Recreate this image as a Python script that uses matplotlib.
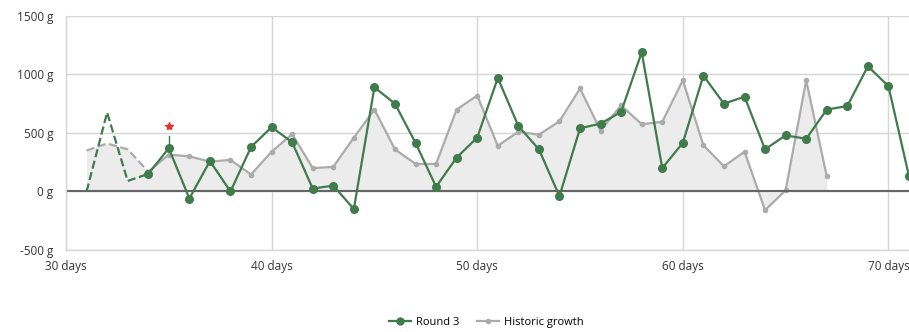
import numpy as np
import matplotlib.pyplot as plt
from matplotlib.lines import Line2D

plt.rcParams['font.family'] = ['Open Sans', 'DejaVu Sans']

# Round 3 (g per day)
round3_dias = np.arange(31, 72)
round3_g = [0, 675, 90, 150, 370, -60, 260, 0, 380, 550,
            420, 25, 50, -150, 890, 750, 415, 40, 290, 460,
            970, 560, 360, -40, 540, 580, 680, 1190, 200, 415,
            990, 750, 810, 360, 480, 450, 700, 730, 1070, 900,
            130]

# Historic growth
hist_dias = np.arange(31, 68)
hist_g = [350, 410, 360, 170, 315, 300, 255, 270, 145, 340,
          490, 200, 210, 460, 700, 360, 235, 235, 700, 820,
          390, 510, 485, 600, 880, 520, 735, 575, 595, 950,
          395, 215, 340, -160, 10, 950, 130]

corte = 34  # hasta aqui la linea es discontinua
dia_estrella = 35

verde = '#3f7b4b'
gris = '#ababab'

fig = plt.figure(figsize=(9.09, 3.32), dpi=100)
ax = fig.add_axes([0.0726, 0.247, 0.9274, 0.705])

rd = np.array(round3_dias)
rg = np.array(round3_g)
hd = np.array(hist_dias)
hg = np.array(hist_g)

ax.fill_between(hd, hg, 0, color='#ececec', zorder=1, linewidth=0)

# historico
m = hd <= corte
ax.plot(hd[m], hg[m], '--', color=gris, lw=1.6, zorder=2)
ax.plot(hd[hd >= corte], hg[hd >= corte], '-', color=gris, lw=1.6, zorder=2)
ax.plot(hd[hd > corte], hg[hd > corte], 'o', color=gris, ms=3, zorder=2)

# round 3
m = rd <= corte
ax.plot(rd[m], rg[m], '--', color=verde, lw=1.6, zorder=3)
ax.plot(rd[rd >= corte], rg[rd >= corte], '-', color=verde, lw=1.6, zorder=3)
ax.plot(rd[rd >= corte], rg[rd >= corte], 'o', color=verde, ms=5.5, zorder=4,
        clip_on=False)

# estrella
ve = rg[rd == dia_estrella][0]
ax.plot([dia_estrella, dia_estrella], [ve, ve + 100], color=verde, lw=1, zorder=3)
ax.plot(dia_estrella, ve + 190, marker='*', color='#e8332a', ms=6, zorder=5)

ax.axhline(0, color='#666666', lw=1.5, zorder=2)

ax.set_xlim(30, 71)
ax.set_ylim(-500, 1500)
ax.set_xticks([30, 40, 50, 60, 70])
ax.set_xticklabels([f'{d} days' for d in [30, 40, 50, 60, 70]])
ax.set_yticks([-500, 0, 500, 1000, 1500])
ax.set_yticklabels([f'{v} g' for v in [-500, 0, 500, 1000, 1500]])
ax.grid(True, color='#d6d6d6', lw=1)
ax.set_axisbelow(True)
for s in ax.spines.values():
    s.set_visible(False)
for lado in ['left', 'bottom']:
    ax.spines[lado].set_visible(True)
    ax.spines[lado].set_color('#d6d6d6')
    ax.spines[lado].set_linewidth(1)
ax.tick_params(length=0, labelsize=8.5, colors='#333333')
ax.tick_params(axis='y', pad=9)
ax.tick_params(axis='x', pad=7)

handles = [Line2D([], [], color=verde, lw=1.6, marker='o', ms=5),
           Line2D([], [], color=gris, lw=1.6, marker='o', ms=3)]
fig.legend(handles, ['Round 3', 'Historic growth'], loc='center',
           bbox_to_anchor=(0.535, 0.028), ncol=2, frameon=False, fontsize=8,
           handlelength=2, columnspacing=1.5, handletextpad=0.5)

fig.savefig('out.png', dpi=100)
